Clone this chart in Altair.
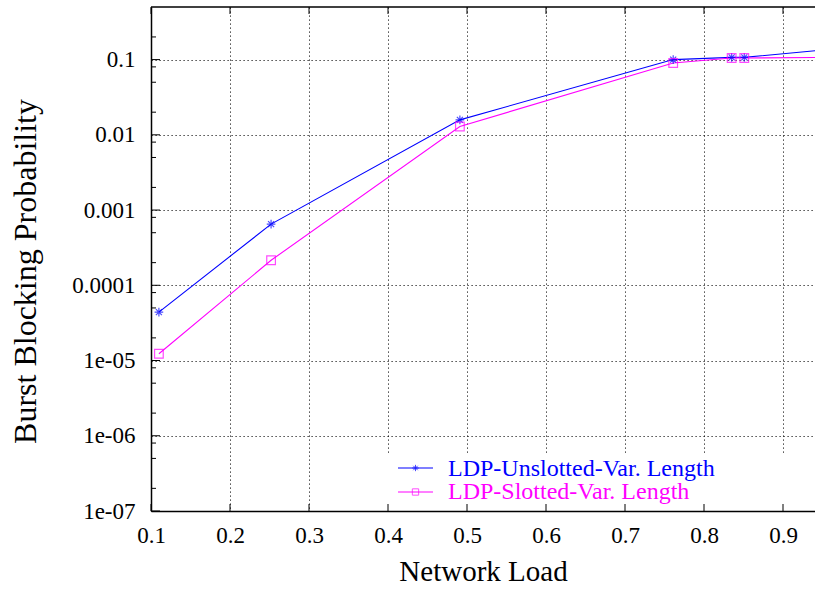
import altair as alt
import pandas as pd

# ---- data ----
load = [0.11, 0.252, 0.491, 0.761, 0.835, 0.851, 0.95]
unslotted = [4.4e-5, 6.5e-4, 0.0158, 0.100, 0.107, 0.107, 0.134]
slotted = [1.23e-5, 2.15e-4, 0.0129, 0.090, 0.105, 0.105, 0.107]
series_names = ["LDP-Unslotted-Var. Length", "LDP-Slotted-Var. Length"]
series_colors = ["#0000ff", "#ff00ff"]

x_ticks = [0.1, 0.2, 0.3, 0.4, 0.5, 0.6, 0.7, 0.8, 0.9]
y_ticks = [1e-7, 1e-6, 1e-5, 1e-4, 1e-3, 1e-2, 1e-1]
y_labels = ["1e-07", "1e-06", "1e-05", "0.0001", "0.001", "0.01", "0.1"]
y_minor = [2e-7, 5e-7, 8e-7, 2e-6, 5e-6, 8e-6, 2e-5, 5e-5, 8e-5,
           2e-4, 5e-4, 8e-4, 2e-3, 5e-3, 8e-3, 0.02, 0.05, 0.08, 0.2]

W, H = 664, 504
FONT = "Liberation Serif"
ASTERISK = "M-1,0L1,0M0,-1L0,1M-0.7,-0.7L0.7,0.7M-0.7,0.7L0.7,-0.7"

df = pd.DataFrame({
    "load": load + load,
    "p": unslotted + slotted,
    "series": [series_names[0]] * len(load) + [series_names[1]] * len(load),
})

xs = alt.Scale(domain=[0.1, 0.9405], nice=False, zero=False)
ys = alt.Scale(type="log", domain=[1e-7, 0.5], nice=False)
color = alt.Color("series:N", scale=alt.Scale(domain=series_names, range=series_colors), legend=None)
shape = alt.Shape("series:N", scale=alt.Scale(domain=series_names, range=[ASTERISK, "square"]), legend=None)

label_expr = "[" + ",".join("'%s'" % s for s in y_labels) + "][round(log(datum.value)/LN10)+7]"

x_axis = alt.Axis(values=x_ticks, format=".1f", grid=True, gridColor="#000", gridDash=[1.2, 2.8],
                  gridWidth=1, gridOpacity=0.9, ticks=False, domain=True, domainColor="#000",
                  domainWidth=1.5, labelFont=FONT, labelFontSize=23, labelColor="#000",
                  labelFlush=False, labelOverlap=False,
                  labelPadding=13, title="Network Load", titleFont=FONT, titleFontSize=29,
                  titleFontWeight="normal", titleColor="#000", titleY=69, titleBaseline="alphabetic")
y_axis = alt.Axis(values=y_ticks, labelExpr=label_expr, grid=True, gridColor="#000", gridDash=[1.2, 2.8],
                  gridWidth=1, gridOpacity=0.9, ticks=False, domain=True, domainColor="#000",
                  domainWidth=1.5, labelFont=FONT, labelFontSize=23, labelColor="#000",
                  labelFlush=False, labelOverlap=False,
                  labelPadding=16, labelBaseline="middle", title="Burst Blocking Probability",
                  titleFont=FONT, titleFontSize=32, titleFontWeight="normal", titleColor="#000",
                  titleX=-126, titleY=264, titleBaseline="middle", titleAngle=270)

X = alt.X("load:Q", scale=xs, axis=x_axis)
Y = alt.Y("p:Q", scale=ys, axis=y_axis)

lines = alt.Chart(df).mark_line(strokeWidth=1.1, clip=True).encode(
    x=X, y=Y, color=color, detail="series:N",
)

points = alt.Chart(df).mark_point(filled=False, size=75, strokeWidth=1.2, clip=True).encode(
    x=X, y=Y, color=color, shape=shape,
)

one = pd.DataFrame({"k": [0]})
key_box = alt.Chart(one).mark_rect(color="white").encode(
    x=alt.value(233), x2=alt.value(W + 5), y=alt.value(448), y2=alt.value(502.5)
)

xt = pd.DataFrame({"load": x_ticks})
xtick_bottom = alt.Chart(xt).mark_rule(color="#000", strokeWidth=1).encode(
    x=X, y=alt.value(H), y2=alt.value(H - 7))
xtick_top = alt.Chart(xt).mark_rule(color="#000", strokeWidth=1).encode(
    x=X, y=alt.value(0), y2=alt.value(7))

yt = pd.DataFrame({"p": y_ticks})
ytick_major = alt.Chart(yt).mark_rule(color="#000", strokeWidth=1).encode(
    y=Y, x=alt.value(0), x2=alt.value(9))
ym = pd.DataFrame({"p": y_minor})
ytick_minor = alt.Chart(ym).mark_rule(color="#000", strokeWidth=1).encode(
    y=Y, x=alt.value(0), x2=alt.value(5))

top_border = alt.Chart(one).mark_rule(color="#000", strokeWidth=1.5).encode(
    x=alt.value(0), x2=alt.value(W), y=alt.value(0))

legend_layers = []
for i, (name, col, shp) in enumerate(zip(series_names, series_colors, [ASTERISK, "square"])):
    d = pd.DataFrame({"series": [name]})
    ly = 461 + 24 * i
    legend_layers.append(alt.Chart(d).mark_rule(color=col, strokeWidth=1.1).encode(
        x=alt.value(247), x2=alt.value(282), y=alt.value(ly)))
    legend_layers.append(alt.Chart(d).mark_point(color=col, shape=shp, filled=False, size=40,
                                                 strokeWidth=1).encode(
        x=alt.value(264.5), y=alt.value(ly)))
    legend_layers.append(alt.Chart(d).mark_text(color=col, font=FONT, fontSize=24, align="left",
                                                baseline="alphabetic").encode(
        x=alt.value(297), y=alt.value(469 + 23 * i), text="series:N"))

chart = alt.layer(
    lines, key_box, points, top_border, xtick_bottom, xtick_top, ytick_major, ytick_minor,
    *legend_layers
).properties(
    width=W, height=H, autosize="none",
    padding={"left": 151, "top": 7, "right": 0, "bottom": 78},
    background="white",
).configure_view(stroke=None)

chart.save("out.html", embed_options={"renderer": "svg", "actions": False})
